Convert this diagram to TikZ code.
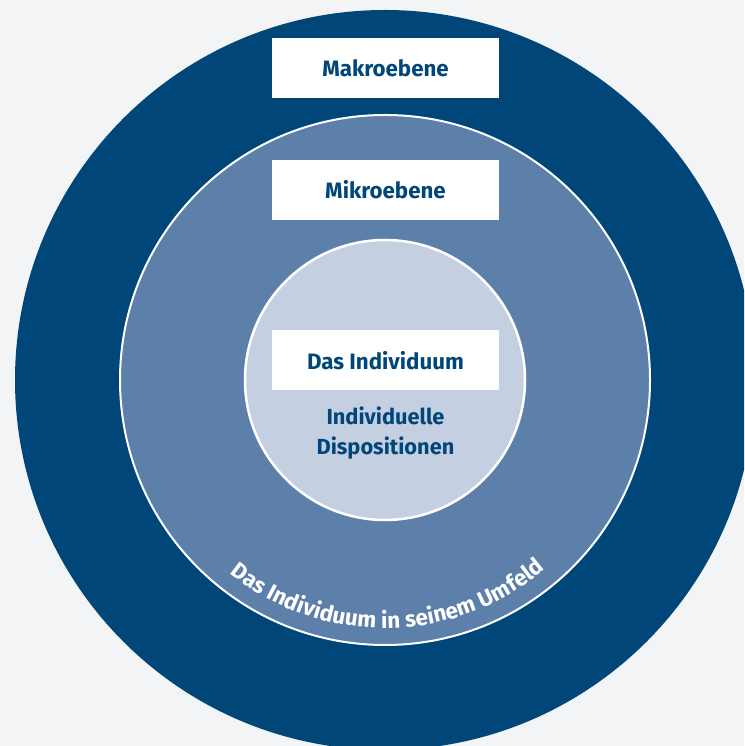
\documentclass[tikz,border=0pt]{standalone}
\usepackage{fontspec}
\setmainfont{Fira Sans}
\usetikzlibrary{decorations.text}
\definecolor{bgc}{HTML}{F3F4F6}
\definecolor{darkb}{HTML}{004678}
\definecolor{midb}{HTML}{5D80AA}
\definecolor{lightb}{HTML}{C4D0E2}
\tikzset{
  labelbox/.style={fill=white, minimum width=227pt, minimum height=60pt, inner sep=0pt,
    text=darkb, font=\fontsize{22.3}{26}\selectfont\bfseries},
  plaintext/.style={text=darkb, align=center, inner sep=0pt,
    font=\fontsize{21.8}{30.5}\selectfont\bfseries}
}
\begin{document}
\begin{tikzpicture}[x=1pt,y=1pt]
\useasboundingbox (0,0) rectangle (744,746);
\clip (0,0) rectangle (744,746);
\fill[bgc] (0,0) rectangle (744,746);
\coordinate (C) at (385,366);
\fill[darkb] (C) circle[radius=370];
\filldraw[fill=midb, draw=white, line width=2pt] (C) circle[radius=265];
\filldraw[fill=lightb, draw=white, line width=2.5pt] (C) circle[radius=140];
\node[labelbox] (makro) at (385.5,677.5) {Makroebene};
\node[labelbox] (mikro) at (385.5,556) {Mikroebene};
\node[labelbox] (indiv) at (385.5,385.5) {Das Individuum};
\node[plaintext] (dispo) at (385.5,313) {Individuelle\\Dispositionen};
\path[decorate, decoration={text along path,
  text={|\fontsize{22.5}{22.5}\bfseries\color{white}|Das Individuum in seinem Umfeld},
  text align=center}]
  ([shift={(195:248)}]C) arc[start angle=195, end angle=346.5, radius=248];
\end{tikzpicture}
\end{document}
